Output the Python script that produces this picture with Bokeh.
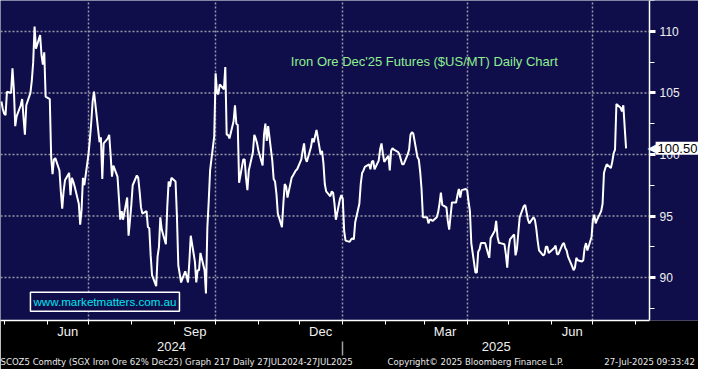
import pandas as pd
from bokeh.plotting import figure
from bokeh.models import Range1d, LinearAxis, FixedTicker, SingleIntervalTicker, Label
from bokeh.embed import file_html
from bokeh.resources import INLINE

# ---------------- data ----------------
first_trading_day = "2024-04-29"
prices = [
    104.3, 103.7, 103.3, 103.2, 105.1, 105.0, 107.0, 105.3, 102.3, 103.1,
    104.0, 104.5, 103.0, 101.6, 104.0, 105.0, 106.0, 107.5, 110.4, 108.6,
    109.7, 108.1, 107.3, 108.3, 104.7, 104.5, 99.8, 98.4, 99.6, 99.7,
    98.7, 97.0, 95.6, 97.0, 97.9, 98.5, 96.7, 98.1, 97.8, 97.4,
    96.0, 94.3, 95.5, 98.1, 97.5, 100.0, 101.2, 102.6, 104.3, 105.1,
    102.0, 101.0, 101.4, 98.0, 100.9, 101.3, 101.6, 100.0, 98.2, 99.1,
    98.2, 96.5, 94.7, 95.4, 94.7, 96.5, 93.4, 94.6, 95.9, 97.5,
    98.3, 98.1, 97.0, 95.7, 95.2, 95.4, 94.1, 94.0, 91.8, 90.2,
    89.3, 91.7, 92.5, 94.9, 93.9, 92.7, 95.7, 97.8, 97.4, 98.1,
    97.8, 95.0, 91.0, 90.3, 89.6, 90.5, 90.1, 89.6, 91.3, 93.4,
    91.3, 89.6, 90.6, 90.6, 92.0, 90.6, 88.7, 94.0, 96.2, 98.7,
    101.5, 106.6, 105.0, 104.9, 105.7, 105.3, 107.1, 101.6, 101.6, 101.3,
    102.7, 104.0, 102.5, 102.4, 97.7, 99.6, 99.6, 98.1, 97.1, 98.7,
    100.2, 101.6, 101.3, 100.9, 100.3, 99.1, 101.6, 102.5, 101.1, 102.3,
    99.5, 98.0, 97.8, 96.8, 95.2, 94.1, 96.0, 97.6, 97.4, 96.5,
    98.1, 98.3, 98.5, 98.7, 98.8, 99.6, 100.3, 100.9, 99.7, 99.4,
    100.6, 101.3, 101.0, 101.5, 102.0, 100.0, 100.3, 99.3, 97.6, 97.0,
    96.6, 97.0, 96.9, 96.0, 94.7, 96.4, 96.7, 96.4, 93.8, 93.0,
    92.9, 93.1, 93.2, 93.1, 94.5, 96.0, 97.6, 98.5, 98.7, 99.0,
    99.2, 98.8, 99.4, 99.5, 98.8, 99.5, 100.4, 100.9, 100.1, 99.4,
    99.9, 98.7, 100.3, 100.5, 100.4, 100.2, 100.0, 99.6, 99.2, 99.2,
    100.0, 100.4, 101.6, 101.8, 101.7, 99.8, 99.6, 98.6, 97.2, 94.9,
    94.9, 94.4, 94.7, 94.7, 94.6, 94.9, 95.3, 96.0, 96.9, 95.9,
    95.7, 94.6, 93.9, 95.0, 96.1, 96.1, 96.7, 97.2, 96.5, 97.1,
    97.2, 97.1, 96.2, 95.4, 92.8, 90.4, 90.4, 92.1, 92.3, 92.8,
    92.8, 92.4, 92.0, 91.6, 93.2, 93.8, 94.6, 93.3, 92.8, 92.8,
    92.7, 91.9, 90.8, 92.4, 93.1, 93.5, 91.8, 92.3, 93.6, 94.9,
    95.8, 95.9, 95.3, 94.7, 94.4, 94.9, 94.7, 94.0, 93.0, 92.2,
    91.8, 91.9, 92.5, 92.5, 92.0, 92.3, 92.4, 92.6, 91.9, 91.9,
    92.7, 92.8, 92.4, 92.2, 91.7, 90.9, 90.6, 90.8, 91.6, 91.4,
    91.3, 91.4, 92.4, 92.8, 92.2, 93.3, 94.7, 95.1, 94.4, 94.7,
    95.4, 96.0, 98.5, 98.9, 99.2, 98.9, 99.4, 100.1, 100.4, 104.1,
    103.8, 103.5, 104.0, 102.2, 100.5,
]
last_price = 100.50
last_price_text = "100.50"

y_ticks = [90, 95, 100, 105, 110]
month_labels = ["Jun", "Sep", "Dec", "Mar", "Jun"]
month_label_days = ["2024-06-16", "2024-09-16", "2024-12-16", "2025-03-16", "2025-06-16"]
quarter_starts = ["2024-07-01", "2024-10-01", "2025-01-01", "2025-04-01", "2025-07-01"]
year_labels = ["2024", "2025"]
year_label_days = ["2024-08-30", "2025-04-22"]
year_break_day = "2025-01-01"

title_text = "Iron Ore Dec'25 Futures ($US/MT) Daily Chart"
watermark_text = "www.marketmatters.com.au"
footer_texts = [
    "SCOZ5 Comdty (SGX Iron Ore 62%  Dec25) Graph 217  Daily 27JUL2024-27JUL2025",
    "Copyright\u00a9 2025 Bloomberg Finance L.P.",
    "27-Jul-2025 09:33:42",
]
footer_days = ["2024-09-01", "2025-04-07", "2025-08-11"]

view_start = "2024-04-28 08:10"
view_end = "2025-09-15 09:36"
axis_day = "2025-08-11 00:40"
y_low, y_high = 86.51, 112.51

# ---------------- styling ----------------
NAVY = "#0f0e4a"
GRID = "#9a9aaa"
TXT = "#f0f0f0"
FONT = "Liberation Sans"


def ms(d):
    return pd.Timestamp(d).value // 10**6


dates = pd.bdate_range(first_trading_day, periods=len(prices))
month_starts = [ms(d) for d in pd.date_range("2024-05-01", "2025-08-01", freq="MS")]

p = figure(
    width=698, height=369,
    x_range=Range1d(ms(view_start), ms(view_end)),
    y_range=Range1d(y_low, y_high),
    x_axis_type="datetime", x_axis_location=None, y_axis_location=None,
    output_backend="svg", toolbar_location=None,
    background_fill_color=NAVY, border_fill_color="black",
    min_border=0, outline_line_color=None,
)

# grid
p.ygrid.visible = False
p.xgrid.ticker = FixedTicker(ticks=[ms(d) for d in quarter_starts])
p.xgrid.grid_line_color = GRID
p.xgrid.grid_line_dash = "2 2"
p.xgrid.grid_line_width = 1.5
p.segment(
    x0=[ms(view_start)] * len(y_ticks), x1=[ms(axis_day)] * len(y_ticks),
    y0=y_ticks, y1=y_ticks,
    line_color=GRID, line_dash="2 2", line_width=1.5,
)

# price line
p.line(dates, prices, line_color="white", line_width=2)

# right value axis drawn at a fixed date
yax = LinearAxis(
    ticker=SingleIntervalTicker(interval=5, num_minor_ticks=2),
    fixed_location=ms(axis_day),
    axis_line_color="white", axis_line_width=1.5,
    major_tick_out=6, major_tick_in=0, major_tick_line_color="white", major_tick_line_width=3,
    minor_tick_out=5, minor_tick_in=0, minor_tick_line_color="white", minor_tick_line_width=1,
    major_label_text_color=TXT, major_label_text_font=FONT,
    major_label_text_font_size="12px", major_label_standoff=4,
)
p.add_layout(yax, "right")

# month axis
label_ms = [ms(d) for d in month_label_days]
xax = LinearAxis(
    ticker=FixedTicker(ticks=label_ms, minor_ticks=month_starts),
    major_label_overrides=dict(zip(label_ms, month_labels)),
    bounds=(ms(view_start), ms(axis_day)),
    axis_line_color="white", axis_line_width=1.5,
    major_tick_out=0, major_tick_in=0, major_tick_line_color=None,
    minor_tick_out=4, minor_tick_in=0, minor_tick_line_color="white",
    major_label_standoff=-1, major_label_text_color=TXT,
    major_label_text_font=FONT, major_label_text_font_size="13px",
)
p.add_layout(xax, "below")

# year axis
yr_ms = [ms(d) for d in year_label_days]
yrax = LinearAxis(
    ticker=FixedTicker(ticks=yr_ms, minor_ticks=[ms(year_break_day)]),
    major_label_overrides=dict(zip(yr_ms, year_labels)),
    axis_line_color=None,
    major_tick_out=0, major_tick_in=0, major_tick_line_color=None,
    minor_tick_out=14, minor_tick_in=0, minor_tick_line_color="#a0a0a0", minor_tick_line_width=1.5,
    major_label_standoff=-14, major_label_text_color=TXT,
    major_label_text_font=FONT, major_label_text_font_size="13px",
)
p.add_layout(yrax, "below")

# footer axis
ft_ms = [ms(d) for d in footer_days]
ftax = LinearAxis(
    ticker=FixedTicker(ticks=ft_ms, minor_ticks=[]),
    major_label_overrides=dict(zip(ft_ms, footer_texts)),
    axis_line_color=None,
    major_tick_out=0, major_tick_in=0, major_tick_line_color=None,
    minor_tick_out=0, minor_tick_in=0, minor_tick_line_color=None,
    major_label_standoff=2, major_label_text_color="#e8e8e8",
    major_label_text_font="DejaVu Sans Condensed", major_label_text_font_size="9.5px",
)
p.add_layout(ftax, "below")

# annotations
p.add_layout(Label(
    x=ms("2025-03-01"), y=107.54, text=title_text,
    text_align="center", text_baseline="middle",
    text_color="#90ee90", text_font=FONT, text_font_size="13px",
))
p.add_layout(Label(
    x=ms("2024-05-20"), y=88.04, text=watermark_text,
    text_align="left", text_baseline="middle",
    text_color="#00e5ee", text_font=FONT, text_font_size="11.6px",
    background_fill_color=NAVY, border_line_color="white", border_line_width=1.5,
    padding=3,
))
p.add_layout(Label(
    x=ms(axis_day), y=last_price, text="\u25c0", x_offset=7,
    text_align="right", text_baseline="middle",
    text_color="white", text_font="DejaVu Sans", text_font_size="12px",
))
p.add_layout(Label(
    x=ms(axis_day), y=last_price, text=last_price_text, x_offset=6,
    text_align="left", text_baseline="middle",
    text_color="black", text_font=FONT, text_font_size="13px",
    background_fill_color="white", padding=2,
))

open("out.html", "w").write(file_html(p, INLINE))
